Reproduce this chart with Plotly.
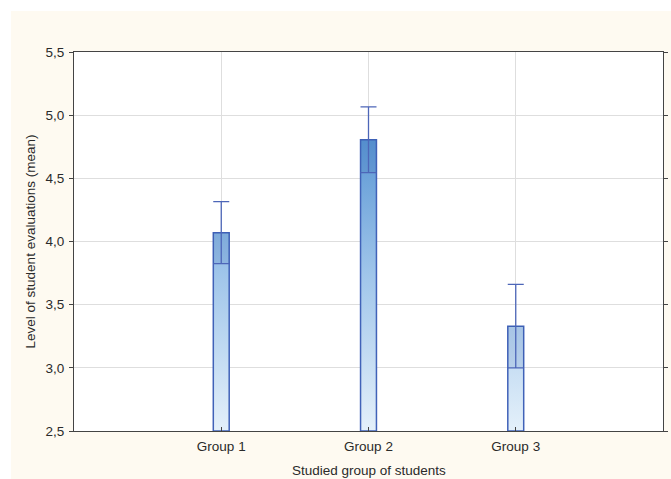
import plotly.graph_objects as go

# ---- data ----
categories = ["Group 1", "Group 2", "Group 3"]
means = [4.07, 4.805, 3.33]
errors = [0.245, 0.26, 0.33]
y_ticks = [2.5, 3.0, 3.5, 4.0, 4.5, 5.0, 5.5]

x_title = "Studied group of students"
y_title = "Level of student evaluations (mean)"

# ---- style ----
BASE = 2.5
HALF_W = 0.054
positions = [i + 1 for i in range(len(categories))]
outline = "#4062b8"
err_col = "#4d66b8"
font = dict(family="Liberation Sans, Arial, sans-serif", size=13.5, color="#2a2a2a")
cream = "#fefaf1"
PLOT_H = 379

fig = go.Figure()

# gradient-filled bars (polygons built from the data, drawn through the axis scale)
for p, m in zip(positions, means):
    fig.add_trace(go.Scatter(
        x=[p - HALF_W, p - HALF_W, p + HALF_W, p + HALF_W, p - HALF_W],
        y=[BASE, m, m, BASE, BASE],
        mode="lines", line=dict(width=1.5, color=outline), fill="toself",
        fillgradient=dict(type="vertical", start=BASE, stop=5.0,
                          colorscale=[[0, "#e4f0fa"], [0.5, "#9fc5ea"], [1, "#4e8ed0"]]),
        hoverinfo="skip", showlegend=False))

# slightly darker band between mean-error and mean
for p, m, e in zip(positions, means, errors):
    fig.add_trace(go.Scatter(
        x=[p - HALF_W, p - HALF_W, p + HALF_W, p + HALF_W, p - HALF_W],
        y=[m - e, m, m, m - e, m - e],
        mode="lines", line=dict(width=0), fill="toself",
        fillcolor="rgba(30,70,150,0.1)",
        hoverinfo="skip", showlegend=False))

# error bars
fig.add_trace(go.Scatter(
    x=positions, y=means, mode="markers",
    marker=dict(size=1, color="rgba(0,0,0,0)"),
    error_y=dict(type="data", array=errors, visible=True,
                 color=err_col, thickness=1.3, width=8),
    showlegend=False))

fig.update_layout(
    width=671, height=479,
    margin=dict(l=74, r=8, t=52, b=48),
    paper_bgcolor=cream, plot_bgcolor="white",
    separators=",.",
    font=font,
    shapes=[
        dict(type="rect", xref="paper", yref="paper", x0=-0.2, x1=1.1,
             y0=1 + 41 / PLOT_H, y1=1.2, fillcolor="white", line=dict(width=0), layer="below"),
        dict(type="rect", xref="paper", yref="paper", x0=-0.2, x1=-63 / 589,
             y0=-0.2, y1=1.2, fillcolor="white", line=dict(width=0), layer="below"),
    ],
    annotations=[
        dict(text=x_title, xref="paper", yref="paper", x=0.5, y=-30 / PLOT_H,
             xanchor="center", yanchor="top", showarrow=False, font=font),
    ],
    xaxis=dict(
        range=[0, 4], tickmode="array", tickvals=positions, ticktext=categories,
        showgrid=True, gridcolor="#dedede", gridwidth=1, zeroline=False,
        showline=True, linecolor="#444444", linewidth=1, mirror=True,
        ticks="inside", ticklen=4, tickcolor="#444444", ticklabelstandoff=3,
        automargin=False,
    ),
    yaxis=dict(
        range=[2.5, 5.5], tickmode="array", tickvals=y_ticks, tickformat=".1f",
        showgrid=True, gridcolor="#dedede", gridwidth=1, zeroline=False,
        showline=True, linecolor="#444444", linewidth=1, mirror="ticks",
        ticks="outside", ticklen=4, tickcolor="#444444", ticklabelstandoff=2,
        automargin=False,
        title=dict(text=y_title, standoff=6, font=font),
    ),
)

fig.write_html("out.html", config={"displayModeBar": False},
               post_script="document.body.style.margin='0';")
